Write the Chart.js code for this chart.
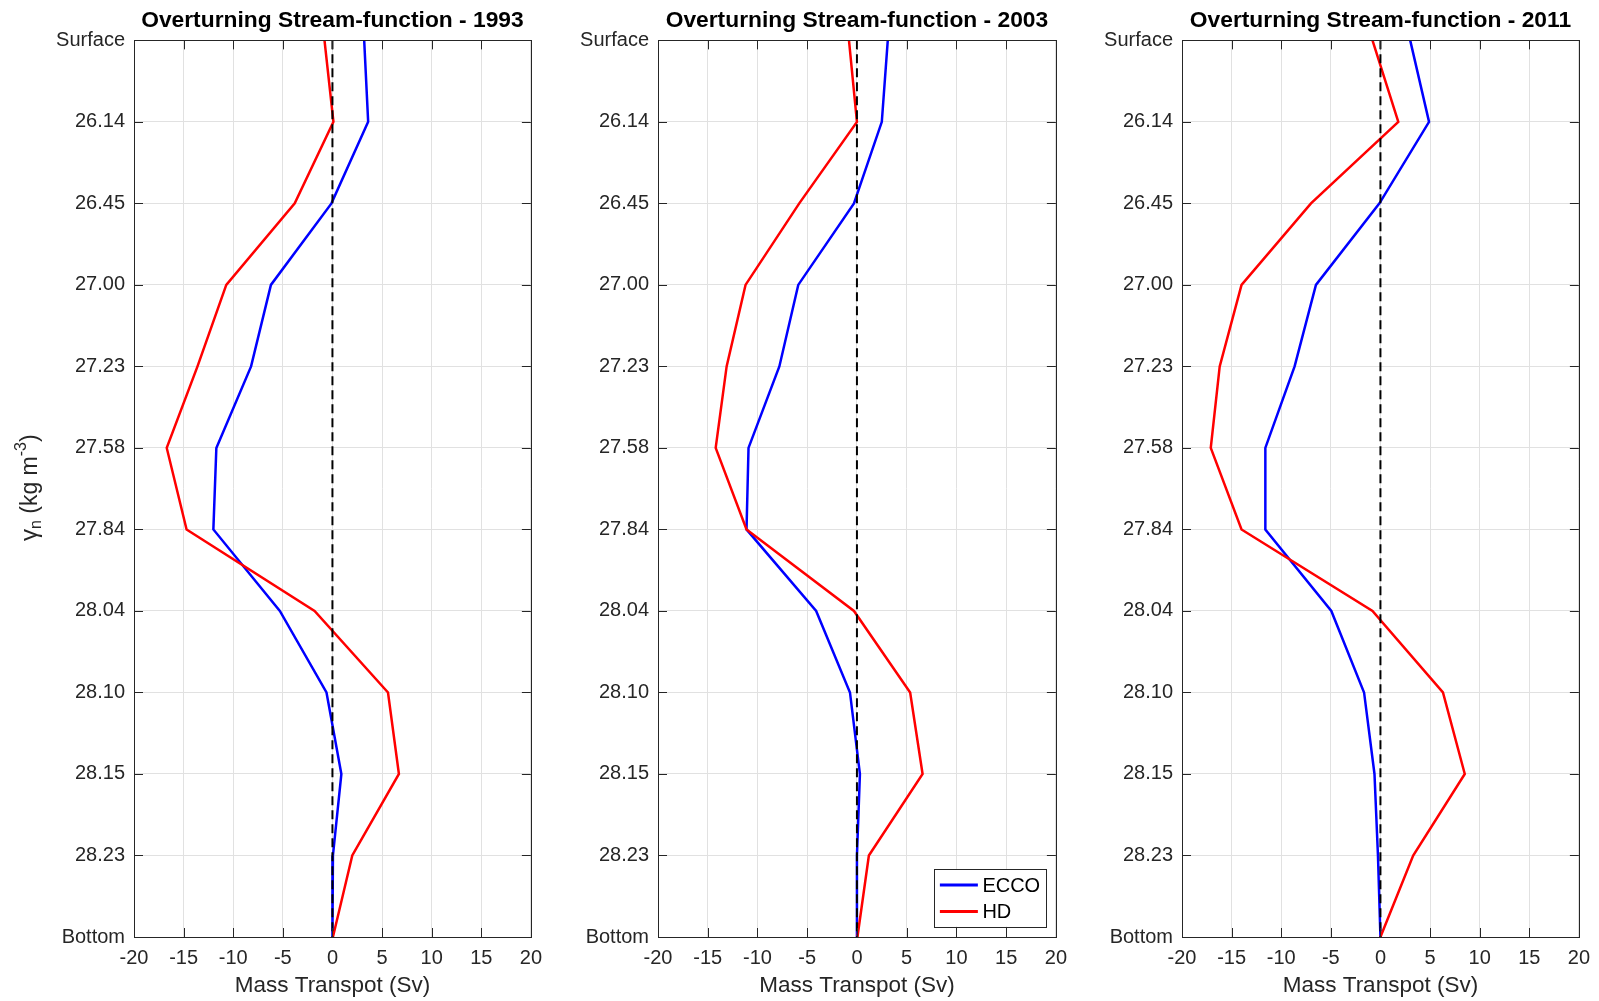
<!DOCTYPE html>
<html>
<head>
<meta charset="utf-8">
<script src="https://cdn.jsdelivr.net/npm/chart.js@4.4.1/dist/chart.umd.min.js"></script>
<style>
  html, body { margin: 0; padding: 0; background: #fff; }
  body { width: 1599px; height: 1001px; position: relative; overflow: hidden; }
  .panel { position: absolute; top: 0; height: 1001px; }
</style>
</head>
<body>
<div class="panel" style="left:0px"><canvas id="c1993" width="551" height="1001"></canvas></div>
<div class="panel" style="left:524px"><canvas id="c2003" width="552" height="1001"></canvas></div>
<div class="panel" style="left:1048px"><canvas id="c2011" width="551" height="1001"></canvas></div>
<script>
// neutral-density levels, top to bottom
const levels = ['Surface', '26.14', '26.45', '27.00', '27.23', '27.58', '27.84', '28.04', '28.10', '28.15', '28.23', 'Bottom'];

// mass transport (Sv) at each level
const ecco1993 = [3.2, 3.6, -0.1, -6.2, -8.2, -11.7, -12.0, -5.3, -0.6, 0.9, 0.05, 0];
const hd1993   = [-0.8, 0.1, -3.8, -10.7, -13.6, -16.7, -14.7, -1.8, 5.6, 6.7, 2.0, 0.05];
const ecco2003 = [3.1, 2.5, -0.3, -5.9, -7.8, -10.9, -11.1, -4.1, -0.7, 0.3, 0, 0];
const hd2003   = [-0.8, 0, -5.8, -11.2, -13.1, -14.2, -11.1, -0.3, 5.35, 6.6, 1.2, 0.05];
const ecco2011 = [3.0, 4.9, -0.1, -6.5, -8.65, -11.6, -11.6, -4.95, -1.65, -0.6, -0.25, 0];
const hd2011   = [-0.8, 1.8, -7.0, -14.0, -16.2, -17.1, -14.0, -0.8, 6.3, 8.5, 3.3, 0];
const zeroLine = levels.map(() => 0);

const xMin = -20, xMax = 20, xStep = 5;

const FONT = "'Liberation Sans', Arial, Helvetica, sans-serif";
const AXIS_COLOR = '#262626';
const GRID_COLOR = '#e1e1e1';
const TICK = 9;

Chart.defaults.font.family = FONT;
Chart.defaults.color = AXIS_COLOR;

// box around the plot area with inward tick marks on all four sides
const axesBox = {
  id: 'axesBox',
  afterDatasetsDraw(chart) {
    const { ctx, chartArea: a, scales: { x, y } } = chart;
    ctx.save();
    ctx.strokeStyle = AXIS_COLOR;
    ctx.lineWidth = 1;
    ctx.beginPath();
    x.ticks.forEach(t => {
      const px = Math.round(x.getPixelForValue(t.value)) + 0.5;
      ctx.moveTo(px, a.bottom); ctx.lineTo(px, a.bottom - TICK);
      ctx.moveTo(px, a.top); ctx.lineTo(px, a.top + TICK);
    });
    y.ticks.forEach((t, i) => {
      const py = Math.round(y.getPixelForTick(i)) + 0.5;
      ctx.moveTo(a.left, py); ctx.lineTo(a.left + TICK, py);
      ctx.moveTo(a.right, py); ctx.lineTo(a.right - TICK, py);
    });
    ctx.stroke();
    ctx.strokeRect(Math.round(a.left) + 0.5, Math.round(a.top) + 0.5, Math.round(a.width), Math.round(a.height));
    ctx.restore();
  }
};

// y-axis title with subscript and superscript
const densityTitle = {
  id: 'densityTitle',
  afterDraw(chart) {
    const { ctx, chartArea: a } = chart;
    const parts = [
      { t: '\u03b3', size: 24, dy: 0 },
      { t: 'n', size: 16, dy: 6 },
      { t: ' (kg m', size: 23, dy: 0 },
      { t: '-3', size: 16, dy: -9 },
      { t: ')', size: 23, dy: 0 }
    ];
    ctx.save();
    ctx.translate(30.5, (a.top + a.bottom) / 2 - 1);
    ctx.rotate(-Math.PI / 2);
    ctx.fillStyle = AXIS_COLOR;
    ctx.textBaseline = 'middle';
    let total = 0;
    parts.forEach(p => { ctx.font = p.size + 'px ' + FONT; p.w = ctx.measureText(p.t).width; total += p.w; });
    let cx = -total / 2;
    parts.forEach(p => {
      ctx.font = p.size + 'px ' + FONT;
      ctx.fillText(p.t, cx, p.dy);
      cx += p.w;
    });
    ctx.restore();
  }
};

// legend box in the lower right corner of the plot area
const cornerLegend = {
  id: 'cornerLegend',
  afterDraw(chart) {
    const { ctx, chartArea: a } = chart;
    const w = 112, h = 57.5;
    const left = a.right - 10 - w, top = a.bottom - 10.5 - h;
    ctx.save();
    ctx.fillStyle = '#fff';
    ctx.fillRect(left, top, w, h);
    ctx.strokeStyle = AXIS_COLOR;
    ctx.lineWidth = 1;
    ctx.strokeRect(Math.round(left) + 0.5, Math.round(top) + 0.5, Math.round(w), Math.round(h));
    ctx.font = '20px ' + FONT;
    ctx.textBaseline = 'middle';
    const rows = chart.data.datasets.filter(d => d.label !== 'zero');
    rows.forEach((d, i) => {
      const cy = top + 16 + i * 26.5;
      ctx.strokeStyle = d.borderColor;
      ctx.lineWidth = 3;
      ctx.beginPath();
      ctx.moveTo(left + 6, cy); ctx.lineTo(left + 44, cy);
      ctx.stroke();
      ctx.fillStyle = '#000';
      ctx.fillText(d.label, left + 48.5, cy + 1);
    });
    ctx.restore();
  }
};

function makePanel(id, year, ecco, hd, extra) {
  new Chart(document.getElementById(id), {
    type: 'line',
    data: {
      labels: levels,
      datasets: [
        { label: 'ECCO', data: ecco, borderColor: '#0000ff', borderWidth: 2.5, pointRadius: 0, order: 3 },
        { label: 'HD', data: hd, borderColor: '#ff0000', borderWidth: 2.5, pointRadius: 0, order: 2 },
        { label: 'zero', data: zeroLine, borderColor: '#000', borderWidth: 2, borderDash: [9, 5], pointRadius: 0, order: 1 }
      ]
    },
    options: {
      indexAxis: 'y',
      responsive: false,
      animation: false,
      layout: { padding: { left: 0, right: 0, top: 0, bottom: 0 } },
      plugins: {
        legend: { display: false },
        tooltip: { enabled: false },
        title: {
          display: true,
          fullSize: false,
          text: 'Overturning Stream-function - ' + year,
          color: '#000',
          font: { size: 22.8, weight: 'bold' },
          padding: { top: 7, bottom: 6 }
        }
      },
      scales: {
        x: {
          type: 'linear',
          min: xMin,
          max: xMax,
          grid: { color: GRID_COLOR, drawTicks: false },
          border: { display: false },
          ticks: { stepSize: xStep, color: AXIS_COLOR, font: { size: 20 }, padding: 9 },
          title: { display: true, text: 'Mass Transpot (Sv)', color: AXIS_COLOR, font: { size: 22.5 }, padding: { top: 0, bottom: 2 } },
          afterFit: s => { s.height = 64; }
        },
        y: {
          type: 'category',
          offset: false,
          grid: { color: GRID_COLOR, drawTicks: false },
          border: { display: false },
          ticks: { color: AXIS_COLOR, font: { size: 20 }, padding: 9, autoSkip: false },
          afterFit: s => { s.width = 134; }
        }
      }
    },
    plugins: [axesBox].concat(extra)
  });
}

makePanel('c1993', '1993', ecco1993, hd1993, [densityTitle]);
makePanel('c2003', '2003', ecco2003, hd2003, [cornerLegend]);
makePanel('c2011', '2011', ecco2011, hd2011, []);
</script>
</body>
</html>
